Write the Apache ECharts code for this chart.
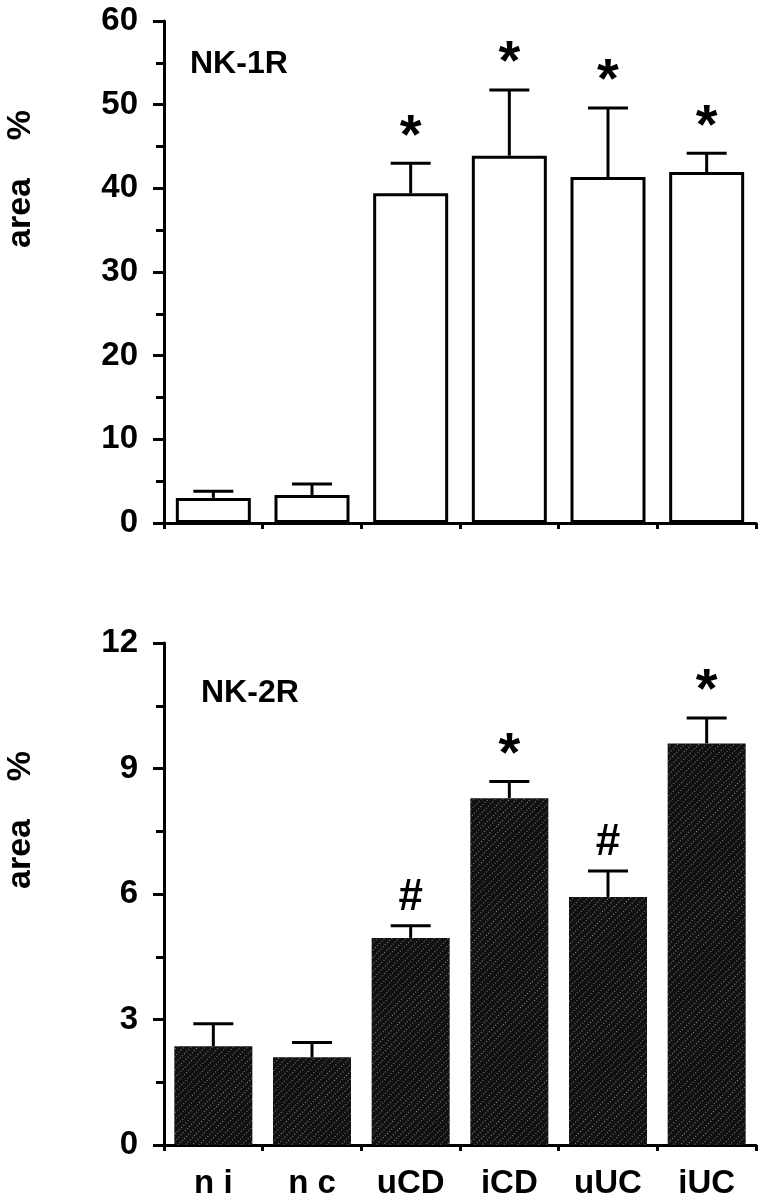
<!DOCTYPE html>
<html>
<head>
<meta charset="utf-8">
<script src="https://cdn.jsdelivr.net/npm/echarts@6/dist/echarts.min.js"></script>
<style>
    html, body { margin: 0; padding: 0; background: #fff; }
    #main { width: 764px; height: 1200px; }
</style>
</head>
<body>
<div id="main"></div>
<script>
// data
const groups = ['n i', 'n c', 'uCD', 'iCD', 'uUC', 'iUC'];
const nk1Mean = [3.0, 3.35, 39.4, 43.9, 41.35, 41.95];
const nk1Err = [0.8, 1.3, 3.6, 7.85, 8.25, 2.25];
const nk1Sig = ['', '', '*', '*', '*', '*'];
const nk1Ticks = [0, 10, 20, 30, 40, 50, 60];
const nk2Mean = [2.36, 2.1, 4.95, 8.29, 5.93, 9.6];
const nk2Err = [0.54, 0.35, 0.29, 0.4, 0.62, 0.61];
const nk2Sig = ['', '', '#', '*', '#', '*'];
const nk2Ticks = [0, 3, 6, 9, 12];

const FONT = '"Liberation Sans", Arial, Helvetica, sans-serif';

function errorBars(sigs) {
    return function (params, api) {
        const i = params.dataIndex;
        const base = api.coord([api.value(0), api.value(1)]);
        const top = api.coord([api.value(0), api.value(2)]);
        const line = { stroke: '#000', lineWidth: 3 };
        const kids = [
            { type: 'line', shape: { x1: base[0], y1: base[1], x2: top[0], y2: top[1] }, style: line },
            { type: 'line', shape: { x1: top[0] - 20, y1: top[1], x2: top[0] + 20, y2: top[1] }, style: line }
        ];
        if (sigs[i]) {
            const star = sigs[i] === '*';
            kids.push({
                type: 'text',
                x: top[0],
                y: top[1] - (star ? 26 : 28),
                style: {
                    text: sigs[i],
                    font: 'bold ' + (star ? 56 : 44) + 'px ' + FONT,
                    fill: '#000',
                    align: 'center',
                    verticalAlign: 'middle'
                }
            });
        }
        return { type: 'group', children: kids };
    };
}

function xAxis(idx, showLabel) {
    return {
        type: 'category',
        gridIndex: idx,
        data: groups,
        axisLine: { lineStyle: { color: '#000', width: 3 } },
        axisTick: { show: true, length: 6, lineStyle: { color: '#000', width: 3 } },
        axisLabel: {
            show: showLabel,
            interval: 0,
            color: '#000',
            fontSize: 33,
            fontWeight: 'bold',
            fontFamily: FONT,
            margin: 22
        },
        splitLine: { show: false }
    };
}

function yAxis(idx, ticks) {
    return {
        type: 'value',
        gridIndex: idx,
        min: ticks[0],
        max: ticks[ticks.length - 1],
        interval: ticks[1] - ticks[0],
        axisLine: { show: true, lineStyle: { color: '#000', width: 3 } },
        axisTick: { show: true, length: 11, lineStyle: { color: '#000', width: 3 } },
        minorTick: { show: true, splitNumber: 2, length: 8, lineStyle: { color: '#000', width: 3 } },
        splitLine: { show: false },
        minorSplitLine: { show: false },
        axisLabel: {
            color: '#000',
            fontSize: 33,
            fontWeight: 'bold',
            fontFamily: FONT,
            margin: 26,
            padding: [7, 0, 0, 0]
        }
    };
}

const myChart = echarts.init(document.getElementById('main'));

const option = {
    animation: false,
    backgroundColor: '#fff',
    title: [
        { text: 'NK-1R', left: 190, top: 48, padding: 0,
          textStyle: { fontSize: 32, fontWeight: 'bold', fontFamily: FONT, color: '#000' } },
        { text: 'NK-2R', left: 201, top: 677, padding: 0,
          textStyle: { fontSize: 32, fontWeight: 'bold', fontFamily: FONT, color: '#000' } }
    ],
    graphic: [
        { type: 'text', x: 21, y: 179, rotation: Math.PI / 2,
          style: { text: 'area    %', font: 'bold 34px ' + FONT, fill: '#000', align: 'center', verticalAlign: 'middle' } },
        { type: 'text', x: 21, y: 820, rotation: Math.PI / 2,
          style: { text: 'area    %', font: 'bold 34px ' + FONT, fill: '#000', align: 'center', verticalAlign: 'middle' } }
    ],
    grid: [
        { left: 164, top: 21, width: 592, height: 502 },
        { left: 164, top: 643, width: 592, height: 504 }
    ],
    xAxis: [xAxis(0, false), xAxis(1, true)],
    yAxis: [yAxis(0, nk1Ticks), yAxis(1, nk2Ticks)],
    series: [
        {
            type: 'bar',
            xAxisIndex: 0,
            yAxisIndex: 0,
            data: nk1Mean,
            barWidth: 75,
            itemStyle: { color: '#fff', borderColor: '#000', borderWidth: 3 }
        },
        {
            type: 'custom',
            xAxisIndex: 0,
            yAxisIndex: 0,
            renderItem: errorBars(nk1Sig),
            data: nk1Mean.map((m, i) => [i, m, m + nk1Err[i]]),
            z: 5
        },
        {
            type: 'bar',
            xAxisIndex: 1,
            yAxisIndex: 1,
            data: nk2Mean,
            barWidth: 78,
            itemStyle: {
                color: '#111',
                decal: {
                    symbol: 'rect',
                    symbolSize: 1,
                    dashArrayX: [1, 2],
                    dashArrayY: [1, 4],
                    rotation: -Math.PI / 4,
                    color: 'rgba(255,255,255,0.5)'
                }
            }
        },
        {
            type: 'custom',
            xAxisIndex: 1,
            yAxisIndex: 1,
            renderItem: errorBars(nk2Sig),
            data: nk2Mean.map((m, i) => [i, m, m + nk2Err[i]]),
            z: 5
        }
    ]
};

myChart.setOption(option);
</script>
</body>
</html>
